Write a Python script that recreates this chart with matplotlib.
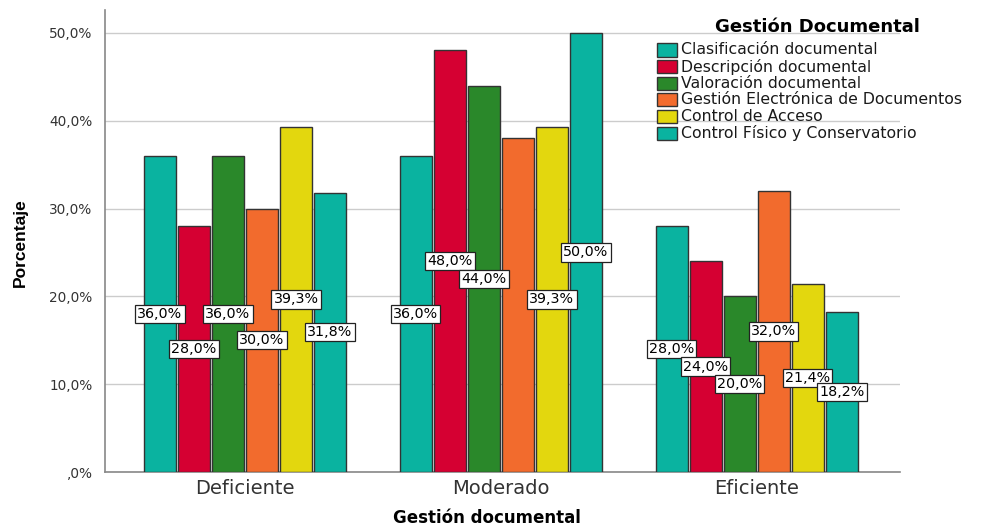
import matplotlib
matplotlib.use("Agg")
import matplotlib.pyplot as plt
import numpy as np
from matplotlib.patches import Rectangle

categories = ["Deficiente", "Moderado", "Eficiente"]
series_names = ["Clasificación documental", "Descripción documental", "Valoración documental",
                "Gestión Electrónica de Documentos", "Control de Acceso", "Control Físico y Conservatorio"]
clasificacion = [36.0, 36.0, 28.0]
descripcion = [28.0, 48.0, 24.0]
valoracion = [36.0, 44.0, 20.0]
electronica = [30.0, 38.0, 32.0]
acceso = [39.3, 39.3, 21.4]
fisico = [31.8, 50.0, 18.2]
series_values = [clasificacion, descripcion, valoracion, electronica, acceso, fisico]
# whether each value label is shown in the reference
show_label = [[True, True, True], [True, True, True], [True, True, True],
              [True, False, True], [True, True, True], [True, True, True]]
yticks = [0, 10, 20, 30, 40, 50]
ytick_labels = [",0%", "10,0%", "20,0%", "30,0%", "40,0%", "50,0%"]
colors = ["#0AB3A0", "#D50032", "#2A882A", "#F26B2D", "#E3D70E", "#0AB3A0"]

plt.rcParams['font.family'] = ['DejaVu Sans']
W, H = 981, 529
fig = plt.figure(figsize=(W / 100, H / 100), dpi=100)
ax = fig.add_axes([105/W, 1-472/H, (900-105)/W, (472-10)/H])

x = np.arange(len(categories))
width = 0.125
pitch = 0.133
for i, (vals, col) in enumerate(zip(series_values, colors)):
    pos = x + (i - 2.5) * pitch
    ax.bar(pos, vals, width=width, color=col, edgecolor="#333333", linewidth=1.0, zorder=3)
    for j, (p, v) in enumerate(zip(pos, vals)):
        if show_label[i][j]:
            ax.text(p, v / 2, f"{v:.1f}%".replace(".", ","), ha="center", va="center",
                    fontsize=10.3, color="black", zorder=5,
                    bbox=dict(boxstyle="square,pad=0.15", facecolor="white", edgecolor="#222222", linewidth=0.9))

ax.set_xlim(-0.547, 2.56)
ax.set_ylim(0, 52.6)
ax.set_yticks(yticks)
ax.set_yticklabels(ytick_labels, fontsize=9.8, color="#333333")
ax.set_xticks(x)
ax.set_xticklabels(categories, fontsize=14, color="#333333")
ax.tick_params(axis="both", length=0)
ax.tick_params(axis="y", pad=9)
ax.tick_params(axis="x", pad=5)
ax.grid(axis="y", color="#CCCCCC", linewidth=1.0, zorder=0)
ax.set_axisbelow(True)
for s in ["top", "right"]:
    ax.spines[s].set_visible(False)
for s in ["left", "bottom"]:
    ax.spines[s].set_color("#888888")
    ax.spines[s].set_linewidth(1.2)

fig.text(487/W, 1-518/H, "Gestión documental", fontsize=12, fontweight="bold", va="center", ha="center")
fig.text(20/W, 1-243/H, "Porcentaje", fontsize=12.5, fontweight="bold", rotation=90,
         va="center", ha="center", family=["Liberation Sans"])

# legend drawn manually (no frame, over the plot)
fig.text(817/W, 1-27/H, "Gestión Documental", fontsize=13, fontweight="bold", va="center", ha="center")
row_y0, row_dy = 50, 16.6
for k, (name, col) in enumerate(zip(series_names, colors)):
    yc = row_y0 + k * row_dy
    fig.add_artist(Rectangle((657/W, 1-(yc+6.5)/H), 20/W, 13/H, transform=fig.transFigure,
                             facecolor=col, edgecolor="#333333", linewidth=1.0))
    fig.text(681/W, 1-yc/H, name, fontsize=11.3, va="center", ha="left", color="#1a1a1a")

fig.savefig("out.png", dpi=100)
